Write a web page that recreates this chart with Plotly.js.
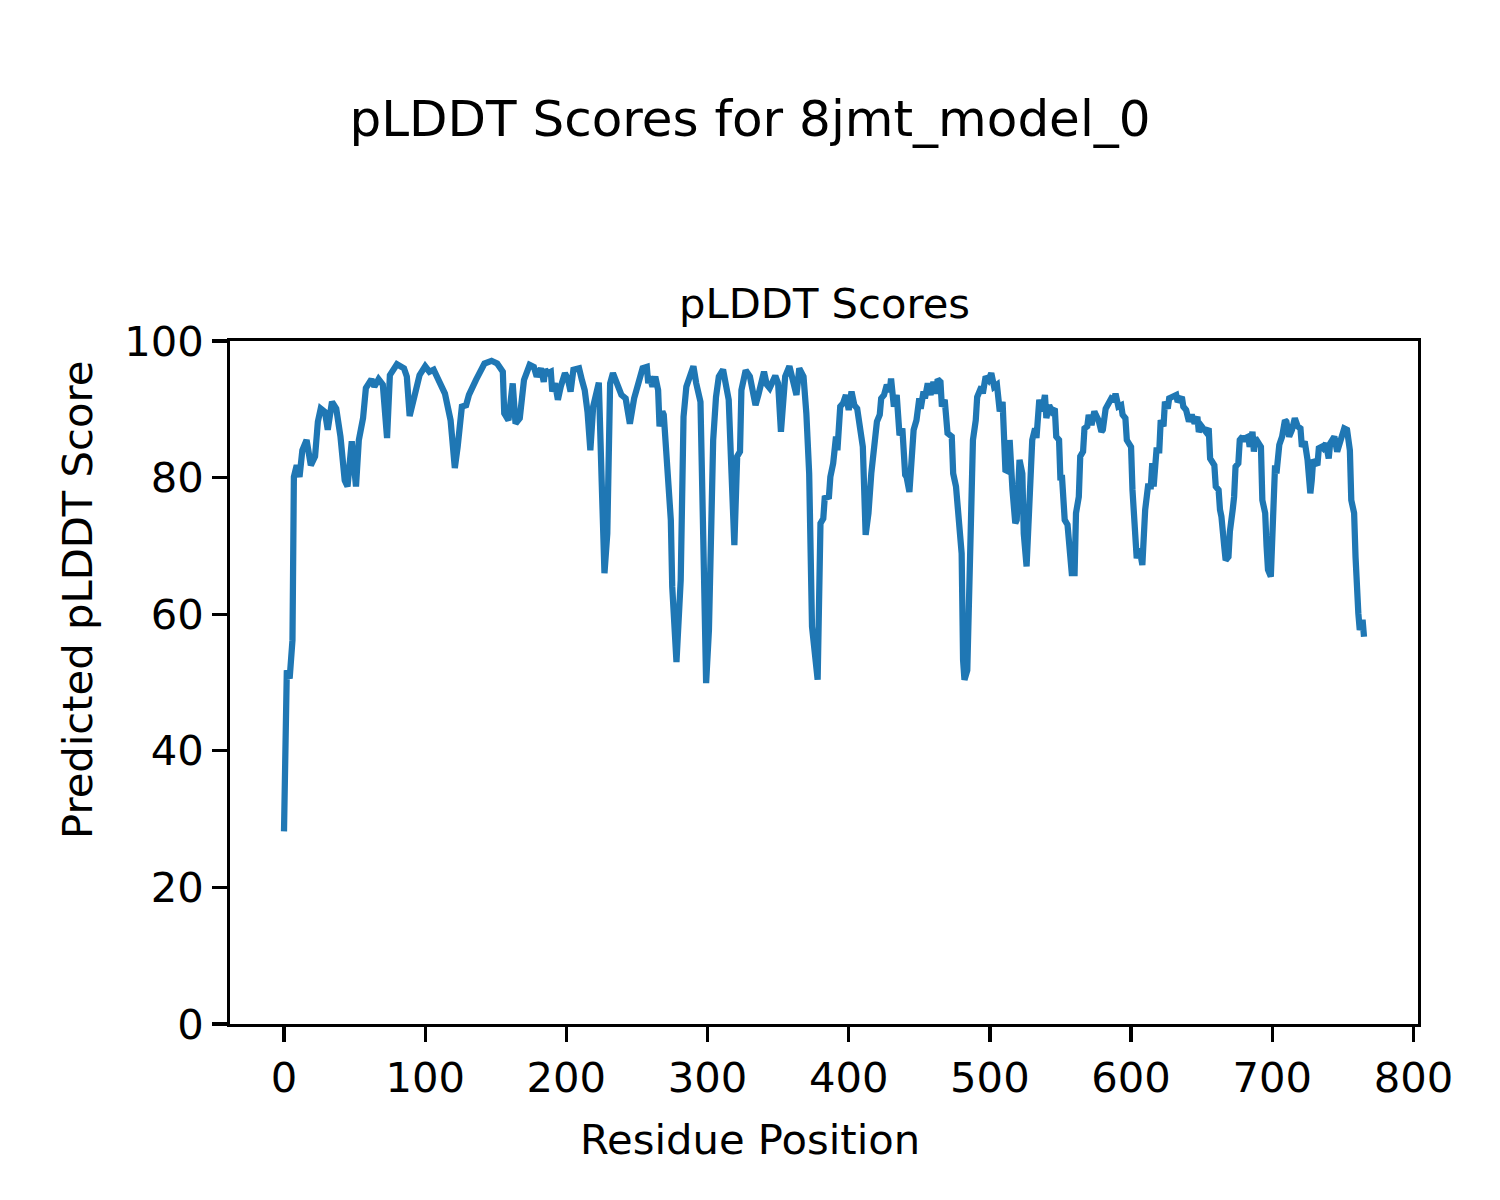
<!DOCTYPE html>
<html>
<head>
<meta charset="utf-8">
<script src="https://cdn.plot.ly/plotly-3.0.1.min.js"></script>
<style>html,body{margin:0;padding:0;background:#fff;}#chart{width:1500px;height:1200px;}</style>
</head>
<body>
<div id="chart"></div>
<script>
const residuePosition = [0,2,4,6,7,9,11,13,16,19,22,24,26,29,31,34,37,40,43,45,48,51,53,56,58,62,64,67,70,73,75,80,85,87,89,93,96,100,103,106,108,111,114,118,121,123,126,129,131,136,142,147,151,155,156,159,162,164,167,170,174,177,179,182,184,185,187,189,190,192,194,196,199,201,203,205,209,211,213,215,217,219,223,225,227,229,231,233,236,239,242,245,248,250,254,257,258,259,261,263,265,266,268,269,271,274,275,276,278,281,283,285,287,290,292,295,297,298,299,301,304,306,308,311,313,315,317,319,321,323,324,327,330,332,334,336,338,340,342,344,348,350,352,355,358,361,363,365,368,370,372,374,376,378,380,382,383,386,387,389,391,392,394,396,398,400,402,404,406,408,410,412,414,416,418,420,422,423,425,427,429,430,432,434,436,438,440,441,443,444,446,448,450,451,453,454,456,458,460,462,463,465,466,468,470,473,474,476,478,480,481,482,484,486,488,490,491,494,495,497,499,501,503,505,507,509,510,511,513,514,516,518,519,521,523,524,526,527,528,530,532,533,535,537,539,540,542,544,546,547,549,550,551,553,555,557,558,560,561,563,564,566,567,569,570,572,574,575,577,579,580,582,584,586,588,589,591,593,594,596,597,600,601,603,604,606,608,610,612,614,615,616,618,620,621,623,624,626,627,629,632,633,636,637,639,641,643,645,647,648,650,653,655,656,659,660,662,663,664,666,667,669,670,672,673,674,676,677,679,680,681,683,684,686,687,688,690,692,693,695,696,697,699,700,701,702,703,705,707,709,710,712,714,716,718,720,721,723,725,727,728,729,732,733,735,736,738,740,741,744,746,748,749,751,753,755,756,758,759,760,761,762,764,765];
const plddtScore = [28.2,51.8,50.6,56.2,80.1,81.8,80.1,84.0,85.5,81.8,83.1,88.2,90.1,89.6,87.0,91.1,90.1,86.0,79.6,78.7,85.3,78.7,85.5,88.7,93.1,94.4,93.3,94.4,93.6,85.8,95.0,96.6,96.0,94.8,89.0,92.1,95.0,96.3,95.5,95.8,94.8,93.8,92.3,88.4,81.4,84.5,90.4,90.6,92.1,94.3,96.7,97.1,96.7,95.5,89.4,88.4,93.8,87.9,88.7,94.3,96.5,96.2,94.8,96.0,94.0,95.8,95.3,95.5,92.6,93.8,91.4,93.3,95.3,94.5,92.6,95.8,96.0,94.3,92.8,89.6,84.0,90.4,93.9,79.6,66.0,71.8,93.8,95.3,93.6,92.1,91.6,87.9,91.6,93.3,96.0,96.2,93.8,94.8,93.3,94.8,92.8,87.5,89.7,89.2,82.6,73.8,64.0,59.2,53.0,65.0,88.9,93.3,94.3,96.3,93.8,91.1,70.9,56.2,49.9,57.7,85.5,91.8,94.8,95.8,93.8,91.4,80.6,70.1,83.1,83.8,92.8,95.7,94.8,92.3,90.6,92.1,93.6,95.5,93.6,93.1,94.9,93.8,86.7,94.8,96.3,93.3,92.1,96.0,94.8,89.4,80.6,58.2,53.3,50.4,73.3,74.0,77.0,77.2,80.1,82.1,86.0,84.0,90.4,90.9,92.1,89.9,92.6,90.6,90.1,87.5,84.5,71.6,74.8,80.6,84.5,88.2,89.2,91.6,92.1,93.6,92.6,94.5,90.4,92.1,86.2,87.2,80.4,80.1,77.9,82.1,87.0,88.4,91.6,90.1,92.6,91.6,93.8,92.1,94.0,92.3,94.4,94.0,90.4,91.4,86.5,86.0,80.6,78.7,72.8,68.9,53.3,50.4,51.8,72.8,85.5,88.4,91.8,93.3,92.3,94.8,94.3,95.3,93.3,93.6,89.7,91.1,83.6,81.1,80.9,85.5,78.2,73.3,73.8,82.6,80.6,71.8,67.0,73.3,79.6,85.5,87.2,85.8,91.4,89.7,92.1,88.7,90.6,89.7,90.1,86.0,85.5,79.6,80.4,73.8,73.1,66.5,66.0,66.0,74.8,77.2,83.1,83.8,87.2,87.5,89.2,87.7,89.7,89.2,88.4,86.7,87.0,90.1,90.9,91.6,91.4,92.3,90.4,90.6,89.2,88.7,85.5,84.5,78.2,72.8,68.2,69.6,67.2,75.3,78.7,78.7,82.1,78.7,84.0,84.0,88.4,87.5,91.1,90.1,91.6,91.8,92.1,91.1,91.8,90.4,89.9,88.2,89.2,87.9,88.9,86.7,87.5,86.7,87.2,82.8,81.8,78.7,78.2,75.3,74.3,69.9,67.9,68.4,72.1,75.3,77.2,81.6,82.1,85.5,86.0,85.3,85.8,86.0,84.5,86.7,83.8,85.8,85.3,84.5,76.7,74.8,69.9,66.5,65.5,72.8,81.6,81.8,80.6,84.8,86.0,88.4,88.2,86.0,87.0,88.7,87.5,87.2,84.5,85.3,82.6,77.7,79.6,82.6,81.8,84.3,84.5,84.3,85.0,82.8,85.0,86.0,83.8,85.5,86.0,87.2,87.0,84.0,76.7,74.8,68.4,62.1,60.1,57.7,59.2,56.7];
const xTickValues = [0,100,200,300,400,500,600,700,800];
const yTickValues = [0,20,40,60,80,100];

const FONT = "DejaVu Sans, Liberation Sans, sans-serif";
const trace = {
  x: residuePosition,
  y: plddtScore,
  type: "scatter",
  mode: "lines",
  line: {color: "#1f77b4", width: 6.25},
  hoverinfo: "skip"
};
const layout = {
  width: 1500, height: 1200,
  paper_bgcolor: "#ffffff", plot_bgcolor: "#ffffff",
  margin: {l: 230, r: 82, t: 341, b: 176, pad: 0},
  showlegend: false,
  font: {family: FONT, color: "#000000", size: 41.7},
  title: {
    text: "pLDDT Scores for 8jmt_model_0",
    font: {family: FONT, size: 50, color: "#000000"},
    x: 0.5, xref: "container", xanchor: "center",
    y: 1 - 118/1200, yref: "container", yanchor: "middle"
  },
  xaxis: {
    range: [-38.25, 803.25],
    tickvals: xTickValues,
    ticktext: xTickValues.map(String),
    ticks: "outside", ticklen: 14.6, tickwidth: 3.3, tickcolor: "#000",
    showline: true, linewidth: 3.3, linecolor: "#000", mirror: true,
    showgrid: false, zeroline: false,
    tickfont: {family: FONT, size: 41.7, color: "#000"}
  },
  yaxis: {
    range: [0, 100],
    tickvals: yTickValues,
    ticktext: yTickValues.map(String),
    ticks: "outside", ticklen: 14.6, tickwidth: 3.3, tickcolor: "#000",
    showline: true, linewidth: 3.3, linecolor: "#000", mirror: true,
    showgrid: false, zeroline: false,
    tickfont: {family: FONT, size: 41.7, color: "#000"}
  },
  annotations: [
    {text: "pLDDT Scores", xref: "paper", yref: "paper", x: 0.5, y: 1 + (341-303)/683,
     xanchor: "center", yanchor: "middle", showarrow: false,
     font: {family: FONT, size: 41.7, color: "#000"}},
    {text: "Residue Position", xref: "paper", yref: "paper", x: (750-230)/1188, y: -(1139-1024)/683,
     xanchor: "center", yanchor: "middle", showarrow: false,
     font: {family: FONT, size: 41.7, color: "#000"}},
    {text: "Predicted pLDDT Score", xref: "paper", yref: "paper", x: (77-230)/1188, y: (1024-600)/683,
     xanchor: "center", yanchor: "middle", textangle: -90, showarrow: false,
     font: {family: FONT, size: 41.7, color: "#000"}}
  ]
};
Plotly.newPlot("chart", [trace], layout, {displayModeBar: false, staticPlot: true});
</script>
</body>
</html>
